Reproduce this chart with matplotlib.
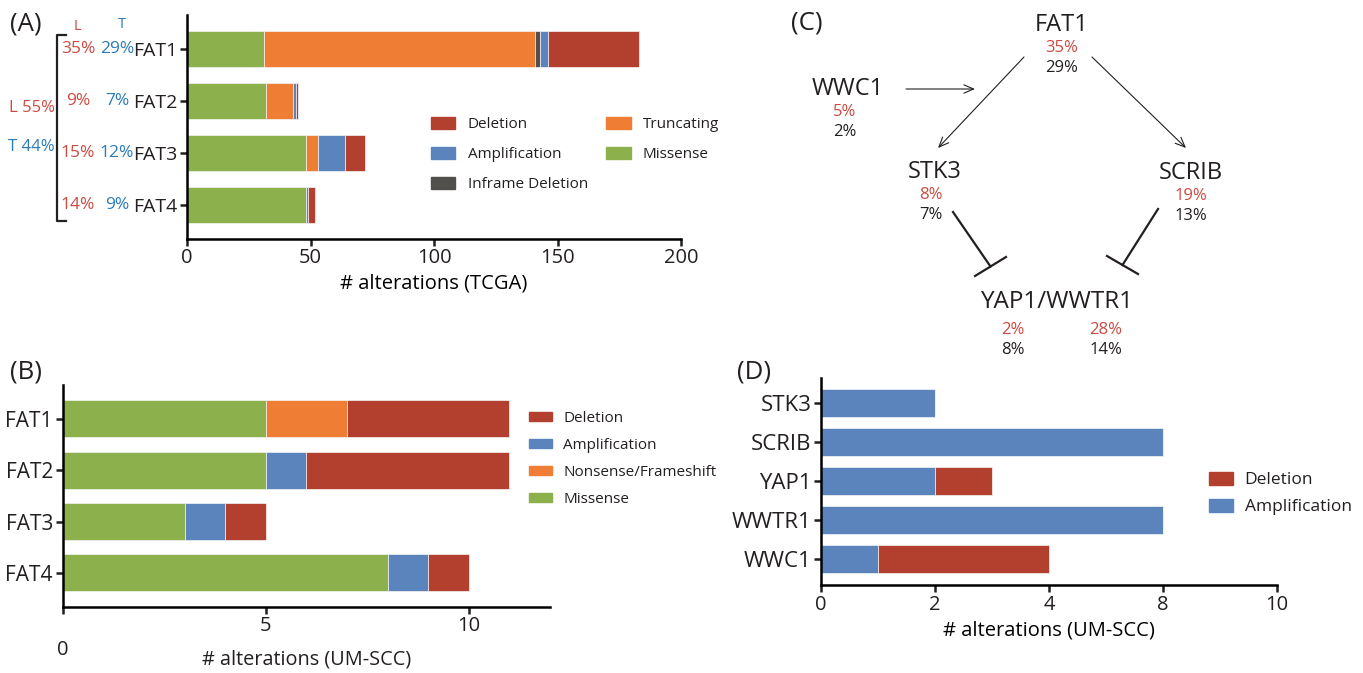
import numpy as np
import matplotlib
matplotlib.use('Agg')
import matplotlib.pyplot as plt
import matplotlib.transforms as mtrans
from matplotlib.patches import Patch

plt.rcParams['font.family'] = ['Open Sans', 'DejaVu Sans']
plt.rcParams['text.color'] = '#231f20'

# ---- data ----
genes_fat = ['FAT1', 'FAT2', 'FAT3', 'FAT4']

# (A) TCGA
missense_a = [31, 32, 48, 48]
truncating_a = [110, 11, 5, 0]
inframe_a = [2, 0, 0, 0]
amp_a = [3, 1, 11, 1]
del_a = [37, 1, 8, 3]
pct_l_a = ['35%', '9%', '15%', '14%']
pct_t_a = ['29%', '7%', '12%', '9%']
xticks_a = [0, 50, 100, 150, 200]

# (B) UM-SCC
missense_b = [5, 5, 3, 8]
nonsense_b = [2, 0, 0, 0]
amp_b = [0, 1, 1, 1]
del_b = [4, 5, 1, 1]

# (D) UM-SCC hippo genes; values are axis positions as drawn
genes_d = ['STK3', 'SCRIB', 'YAP1', 'WWTR1', 'WWC1']
amp_d = [2, 6, 2, 6, 1]
del_d = [0, 0, 1, 0, 3]
xtick_pos_d = [0, 2, 4, 6, 8]
xtick_lab_d = ['0', '2', '4', '8', '10']

# (C) network labels
nodes_c = ['FAT1', 'WWC1', 'STK3', 'SCRIB']
node_l_c = ['35%', '5%', '8%', '19%']
node_t_c = ['29%', '2%', '7%', '13%']
yap_l_c = ['2%', '28%']
yap_t_c = ['8%', '14%']

GREEN = '#8cb04b'
ORANGE = '#ef7d33'
BLUE = '#5a84bb'
RED = '#b3402e'
GRAY = '#52504c'
TRED = '#cc4a40'
TBLUE = '#2b7bba'

W, H = 1363, 673
fig = plt.figure(figsize=(W / 100, H / 100), dpi=100)

# overlay axes in pixel coords for labels / diagram
ov = fig.add_axes([0, 0, 1, 1])
ov.set_xlim(0, W)
ov.set_ylim(H, 0)
ov.axis('off')


def px_axes(l, t, r, b):
    return fig.add_axes([l / W, 1 - b / H, (r - l) / W, (b - t) / H])


def style(ax, fs):
    for s in ['top', 'right']:
        ax.spines[s].set_visible(False)
    for s in ['left', 'bottom']:
        ax.spines[s].set_linewidth(1.8)
    ax.tick_params(length=5, width=1.8, labelsize=fs, pad=2, colors='#231f20')
    ax.set_facecolor('none')


def stack(ax, y, series, colors, h):
    left = np.zeros(len(y))
    for vals, c in zip(series, colors):
        vals = np.array(vals, dtype=float)
        ax.barh(y, vals, left=left, height=h, color=c, edgecolor='#f4f4f4', linewidth=0.5)
        left += vals


# ---- (A) ----
ax_a = px_axes(187, 15, 681, 238.6)
ya = np.arange(len(genes_fat))
stack(ax_a, ya, [missense_a, truncating_a, inframe_a, amp_a, del_a],
      [GREEN, ORANGE, GRAY, BLUE, RED], 0.7)
ax_a.set_xlim(0, 200)
ax_a.set_ylim(3.646, -0.654)
ax_a.set_xticks(xticks_a)
ax_a.set_yticks(ya)
ax_a.set_yticklabels(genes_fat)
style(ax_a, 14.5)
ax_a.tick_params(axis='y', labelsize=14)
ax_a.set_xlabel('# alterations (TCGA)', fontsize=14.5, labelpad=4)
hA = [Patch(color=RED), Patch(color=BLUE), Patch(color=GRAY), Patch(color=ORANGE), Patch(color=GREEN)]
lA = ['Deletion', 'Amplification', 'Inframe Deletion', 'Truncating', 'Missense']
fig.legend(hA, lA, ncol=2, loc='upper left', bbox_to_anchor=(431 / W, 1 - 117 / H),
           frameon=False, fontsize=11, handlelength=1.6, handleheight=0.85,
           handletextpad=0.8, labelspacing=0.95, columnspacing=1.2, borderpad=0, borderaxespad=0)

# left side L/T annotations for (A)
bt = mtrans.blended_transform_factory(ov.transData, ax_a.transData)
for i in range(len(genes_fat)):
    ov.text(78, ya[i], pct_l_a[i], color=TRED, fontsize=12.5, ha='center', va='center', transform=bt)
    ov.text(117, ya[i], pct_t_a[i], color=TBLUE, fontsize=12.5, ha='center', va='center', transform=bt)
ov.text(77, 26, 'L', color=TRED, fontsize=10.5, ha='center', va='center')
ov.text(122, 25, 'T', color=TBLUE, fontsize=10.5, ha='center', va='center')
ov.text(32, 108, 'L 55%', color=TRED, fontsize=12, ha='center', va='center')
ov.text(31, 147, 'T 44%', color=TBLUE, fontsize=12, ha='center', va='center')
ov.plot([66, 57, 57, 66], [35, 35, 221, 221], color='#231f20', lw=1.6)
ov.text(26, 24, '(A)', fontsize=18.5, ha='center', va='center')

# ---- (B) ----
ax_b = px_axes(62.7, 385, 550, 606.7)
yb = np.arange(len(genes_fat))
stack(ax_b, yb, [missense_b, nonsense_b, amp_b, del_b], [GREEN, ORANGE, BLUE, RED], 0.72)
ax_b.set_xlim(0, 12)
ax_b.set_ylim(3.66, -0.66)
ax_b.set_xticks([0, 5, 10])
ax_b.set_xticklabels(['', '5', '10'])
ax_b.set_yticks(yb)
ax_b.set_yticklabels(genes_fat)
style(ax_b, 15)
ax_b.tick_params(axis='x', labelsize=14.5)
ov.text(63, 650, '0', fontsize=14.5, ha='center', va='center')
ov.text(307, 660, '# alterations (UM-SCC)', fontsize=14.3, ha='center', va='center')
hB = [Patch(color=RED), Patch(color=BLUE), Patch(color=ORANGE), Patch(color=GREEN)]
lB = ['Deletion', 'Amplification', 'Nonsense/Frameshift', 'Missense']
fig.legend(hB, lB, loc='upper left', bbox_to_anchor=(529 / W, 1 - 411 / H),
           frameon=False, fontsize=11, handlelength=1.5, handleheight=0.6,
           handletextpad=0.75, labelspacing=0.78, borderpad=0, borderaxespad=0)
ov.text(26, 372, '(B)', fontsize=18.5, ha='center', va='center')

# ---- (D) ----
ax_d = px_axes(821, 378, 1277, 585)
yd = np.arange(len(genes_d))
stack(ax_d, yd, [amp_d, del_d], [BLUE, RED], 0.72)
ax_d.set_xlim(0, 8)
ax_d.set_ylim(4.67, -0.64)
ax_d.set_xticks(xtick_pos_d)
ax_d.set_xticklabels(xtick_lab_d)
ax_d.set_yticks(yd)
ax_d.set_yticklabels(genes_d)
style(ax_d, 16)
ax_d.tick_params(axis='x', labelsize=14.5)
ax_d.set_xlabel('# alterations (UM-SCC)', fontsize=14.5, labelpad=4)
hD = [Patch(color=RED), Patch(color=BLUE)]
fig.legend(hD, ['Deletion', 'Amplification'], loc='upper left', bbox_to_anchor=(1209 / W, 1 - 472 / H),
           frameon=False, fontsize=12.5, handlelength=1.4, handleheight=0.75,
           handletextpad=0.65, labelspacing=0.6, borderpad=0, borderaxespad=0)
ov.text(754, 372, '(D)', fontsize=18.5, ha='center', va='center')

# ---- (C) diagram ----
ov.text(807, 23, '(C)', fontsize=18.5, ha='center', va='center')
node_xy = [(1062, 25), (848, 89), (935, 172), (1191, 173)]
pct_x = [1062, 845, 931, 1191]
for name, (x, y), px, l, t in zip(nodes_c, node_xy, pct_x, node_l_c, node_t_c):
    ov.text(x, y, name, fontsize=17, ha='center', va='center')
    ov.text(px, y + 23, l, color=TRED, fontsize=12, ha='center', va='center')
    ov.text(px, y + 43, t, fontsize=12, ha='center', va='center')
ov.text(1057, 302, 'YAP1/WWTR1', fontsize=17.5, ha='center', va='center')
for px, l, t in zip([1013, 1106], yap_l_c, yap_t_c):
    ov.text(px, 330, l, color=TRED, fontsize=12, ha='center', va='center')
    ov.text(px, 350, t, fontsize=12, ha='center', va='center')

arr = dict(arrowstyle='->,head_length=0.7,head_width=0.3', lw=0.8, color='#231f20', shrinkA=0, shrinkB=0)
for (x0, y0), (x1, y1) in [((906, 89), (975, 89)), ((1024, 57), (938, 148)), ((1092, 57), (1186, 148))]:
    ov.annotate('', xy=(x1, y1), xytext=(x0, y0), arrowprops=arr)
# inhibition lines
ov.plot([953, 990.5], [212, 266.5], color='#231f20', lw=1.6)
ov.plot([975, 1006], [276, 257], color='#231f20', lw=1.6)
ov.plot([1158, 1122.5], [209, 265], color='#231f20', lw=1.6)
ov.plot([1107, 1138], [256, 274], color='#231f20', lw=1.6)

fig.savefig('out.png', dpi=100)
